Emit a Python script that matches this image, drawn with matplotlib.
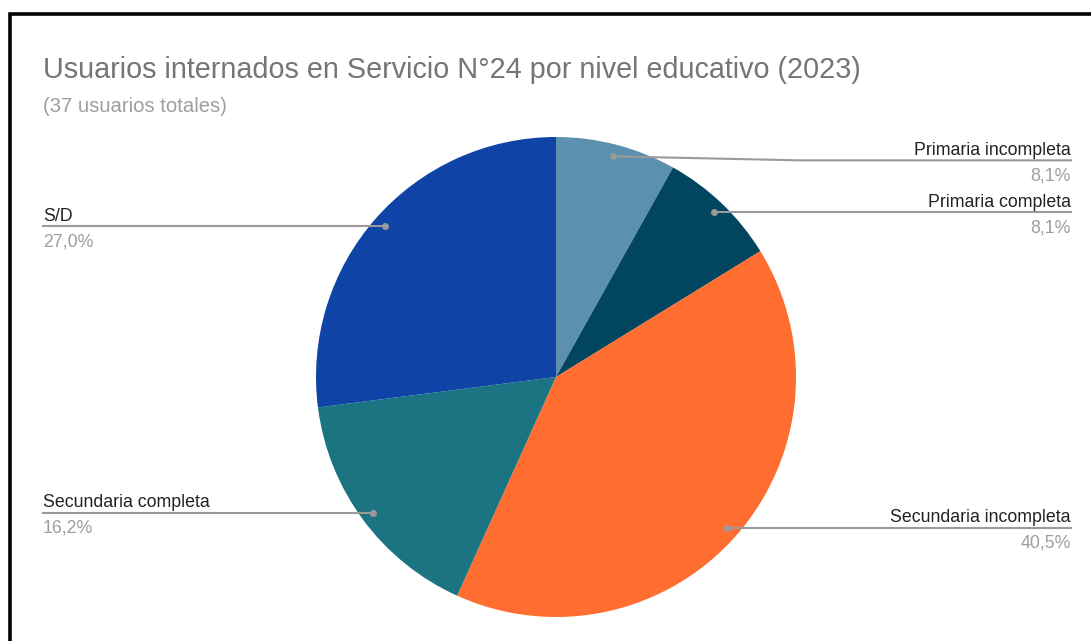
import matplotlib
matplotlib.use("Agg")
import matplotlib.pyplot as plt
import numpy as np

categories = ["Primaria incompleta", "Primaria completa", "Secundaria incompleta",
              "Secundaria completa", "S/D"]
values = [3, 3, 15, 6, 10]
colors = ["#5b91ae", "#01455f", "#ff6d31", "#1c7483", "#0f44a6"]
title = "Usuarios internados en Servicio N°24 por nivel educativo (2023)"
subtitle = "(37 usuarios totales)"

plt.rcParams['font.family'] = ['Liberation Sans', 'DejaVu Sans']

W, H = 1091, 641
fig = plt.figure(figsize=(W / 100, H / 100), dpi=100)
fig.patch.set_facecolor("white")

# overlay axes in pixel coordinates (y down)
ov = fig.add_axes([0, 0, 1, 1], zorder=3)
ov.set_xlim(0, W)
ov.set_ylim(H, 0)
ov.axis("off")
ov.patch.set_alpha(0)

# pie axes
cx, cy, R = 556, 377, 240
pax = fig.add_axes([(cx - R) / W, (H - cy - R) / H, 2 * R / W, 2 * R / H], zorder=1)
wedges, _ = pax.pie(values, colors=colors, startangle=90, counterclock=False,
                    radius=1, wedgeprops=dict(linewidth=0))
pax.set_xlim(-1, 1)
pax.set_ylim(-1, 1)
pax.set_aspect("equal")
pax.axis("off")

# borders (left and top)
ov.plot([9.5, 9.5, W + 5], [H + 5, 14, 14], color="black", lw=2.6,
        solid_joinstyle="miter", clip_on=False)

ov.text(43, 70, title, fontsize=20.7, color="#757575", va="center", ha="left")
ov.text(43, 106, subtitle, fontsize=14.6, color="#9e9e9e", va="center", ha="left")

total = sum(values)
fig.canvas.draw()
to_px = lambda x, y: ov.transData.inverted().transform(pax.transData.transform((x, y)))

line_col = "#9a9a9a"
label_shift = [4, 0, 0, 0, 0]
for w, name, v, dy in zip(wedges, categories, values, label_shift):
    mid = np.deg2rad((w.theta1 + w.theta2) / 2)
    px, py = to_px(0.95 * np.cos(mid), 0.95 * np.sin(mid))
    ly = py + dy
    right = np.cos(mid) > 0
    pct = f"{100 * v / total:.1f}%".replace(".", ",")
    if right:
        xe = 1071
        if dy:
            xs = [px, 800, xe]
            ys = [py, ly, ly]
        else:
            xs = [px, xe]
            ys = [py, ly]
        ha, tx = "right", xe
    else:
        xe = 43
        xs = [px, xe]
        ys = [py, ly]
        ha, tx = "left", xe
    ov.plot(xs, ys, color=line_col, lw=1.5, zorder=4)
    ov.plot([px], [py], "o", color=line_col, ms=5, mec="none", zorder=5)
    ov.text(tx, ly - 1.5, name, fontsize=12.8, color="#222222", ha=ha, va="bottom")
    ov.text(tx, ly + 7, pct, fontsize=12.8, color="#9e9e9e", ha=ha, va="top")

fig.savefig("out.png", dpi=100, facecolor="white")
